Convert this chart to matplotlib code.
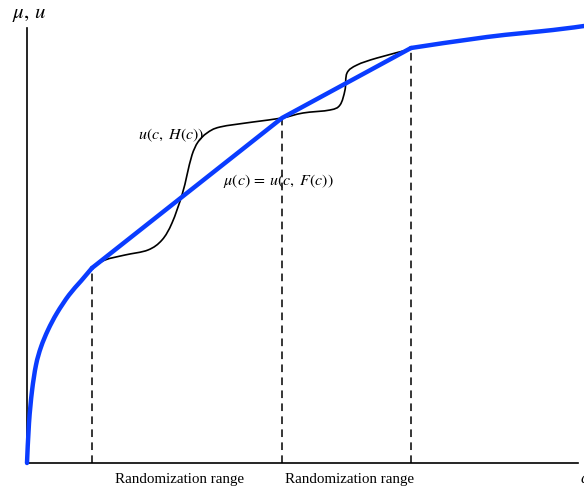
import matplotlib
matplotlib.use('Agg')
from matplotlib import pyplot as plt
from matplotlib.path import Path
from matplotlib.patches import PathPatch

plt.rcParams['font.family'] = ['Liberation Serif', 'DejaVu Serif']
plt.rcParams['mathtext.fontset'] = 'stix'

# mu(c) = u(c, F(c)) -- concave envelope (blue), in three pieces
mu_head_x = [0, 2, 5, 9, 14, 21, 30, 42, 54, 65]
mu_head_y = [0, 40, 72, 98, 116, 133, 150, 168, 182, 195]
mu_mid_x = [65, 255, 384]
mu_mid_y = [195, 345, 415]
mu_tail_x = [384, 460, 526, 557]
mu_tail_y = [415, 426, 433, 437]

# u(c, H(c)) -- wavy utility (black)
u_x = [65, 78, 98, 121, 135, 145, 155, 160, 165, 171, 180, 193, 226, 255,
       276, 303, 313, 318, 320, 330, 350, 384]
u_y = [195, 203, 208, 213, 223, 240, 268, 288, 308, 321, 330, 336, 341, 345,
       350, 353, 358, 373, 390, 398, 405, 414]

# randomization range boundaries
cuts = [65, 255, 384]
cut_tops = [195, 345, 415]
range_centers = [153, 323]


def smooth(xs, ys):
    # Catmull-Rom through the points, drawn as cubic bezier path
    pts = list(zip(xs, ys))
    n = len(pts)
    verts = [pts[0]]
    codes = [Path.MOVETO]
    for i in range(n - 1):
        p0 = pts[max(i - 1, 0)]
        p1 = pts[i]
        p2 = pts[i + 1]
        p3 = pts[min(i + 2, n - 1)]
        c1 = (p1[0] + (p2[0] - p0[0]) / 6, p1[1] + (p2[1] - p0[1]) / 6)
        c2 = (p2[0] - (p3[0] - p1[0]) / 6, p2[1] - (p3[1] - p1[1]) / 6)
        verts += [c1, c2, p2]
        codes += [Path.CURVE4] * 3
    return Path(verts, codes)


fig = plt.figure(figsize=(5.84, 4.92), dpi=100)
ax = fig.add_axes([27/584, 29/492, 551/584, 435/492])
ax.set_xlim(0, 551)
ax.set_ylim(0, 435)
for s in ['top', 'right']:
    ax.spines[s].set_visible(False)
for s in ['left', 'bottom']:
    ax.spines[s].set_linewidth(1.2)
ax.set_xticks([])
ax.set_yticks([])

for x, top in zip(cuts, cut_tops):
    ax.plot([x, x], [0, top], color='k', lw=1.1, ls=(0, (5, 3.5)), clip_on=False)

ax.add_patch(PathPatch(smooth(u_x, u_y), fill=False, edgecolor='k', lw=1.2,
                       clip_on=False, zorder=3))
blue = '#0a3cff'
for px, py in [(mu_head_x, mu_head_y), (mu_tail_x, mu_tail_y)]:
    ax.add_patch(PathPatch(smooth(px, py), fill=False, edgecolor=blue, lw=3.2,
                           clip_on=False, zorder=4, capstyle='round'))
ax.plot(mu_mid_x, mu_mid_y, color=blue, lw=3.2, clip_on=False, zorder=4,
        solid_capstyle='round', solid_joinstyle='round')

for xc in range_centers:
    ax.text(xc, -16, 'Randomization range', ha='center', va='center',
            fontsize=10.8, clip_on=False)
ax.text(553, -16, r'$c$', ha='left', va='center', fontsize=12, clip_on=False)
ax.text(2, 449, r'$\mu,\,u$', ha='center', va='center', fontsize=15, clip_on=False)
ax.text(144, 328, r'$u(c,\ H(c))$', ha='center', va='center', fontsize=11.5)
ax.text(251, 282, r'$\mu(c)\,=\,u(c,\ F(c))$', ha='center', va='center', fontsize=11.5)

fig.savefig('out.png', dpi=100)
